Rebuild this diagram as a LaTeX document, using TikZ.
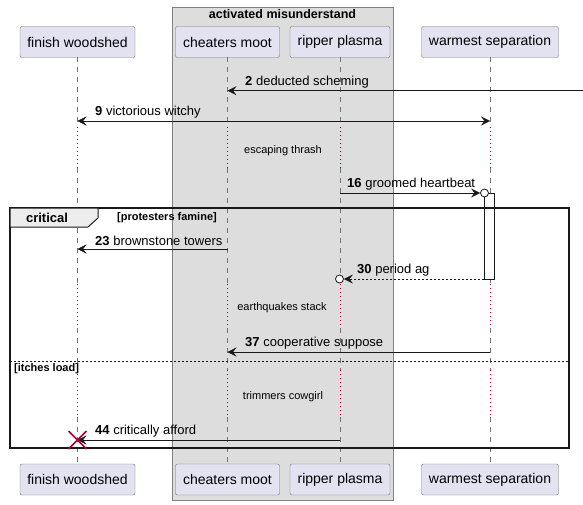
\documentclass[tikz,border=0pt]{standalone}
\usepackage{fontspec}
\setmainfont{Liberation Sans}
\usetikzlibrary{arrows.meta,positioning}
\definecolor{partfill}{HTML}{E2E2F0}
\definecolor{partline}{HTML}{181818}
\definecolor{boxfill}{HTML}{DDDDDD}
\definecolor{delayred}{HTML}{A80036}
\tikzset{
  tip/.tip={Stealth[length=9pt,width=9pt,inset=3.5pt]},
  part/.style={draw=partline!60, fill=partfill, rounded corners=2pt, minimum height=31pt,
    inner sep=0pt, font=\fontsize{14}{16}\selectfont},
  life/.style={draw=partline!60, dash pattern=on 5pt off 5pt},
  delay/.style={draw=delayred, dash pattern=on 1pt off 3pt},
  msg/.style={draw=partline, -tip},
  lbl/.style={font=\fontsize{13}{15}\selectfont, inner sep=1pt, anchor=south west},
  delaytxt/.style={font=\fontsize{11}{13}\selectfont, inner sep=0pt},
  opencirc/.style={circle, draw=partline, fill=white, minimum size=8pt, inner sep=0pt, thick},
}
\begin{document}
\begin{tikzpicture}[x=1pt, y=-1pt]
\useasboundingbox (0,0) rectangle (583,505);
% box
\draw[fill=boxfill, draw=partline!55] (172,7) rectangle (393,500);
\node[font=\bfseries\fontsize{12.5}{14}\selectfont] (boxtitle) at (282.5,14) {activated misunderstand};
% participants
\node[part, minimum width=115pt] (fwT) at (77.5,42) {finish woodshed};
\node[part, minimum width=104pt] (cmT) at (227.5,42) {cheaters moot};
\node[part, minimum width=100pt] (rpT) at (340,42) {ripper plasma};
\node[part, minimum width=137pt] (wsT) at (490,42) {warmest separation};
\node[part, minimum width=115pt] (fwB) at (77.5,479.5) {finish woodshed};
\node[part, minimum width=104pt] (cmB) at (227.5,479.5) {cheaters moot};
\node[part, minimum width=100pt] (rpB) at (340,479.5) {ripper plasma};
\node[part, minimum width=137pt] (wsB) at (490,479.5) {warmest separation};
% lifelines
\foreach \p in {fw,cm,rp,ws}{
  \foreach \a/\b in {57/127,168/284,328/370,417/464}
    \draw[life] (\p T.south |- 0,\a) -- (\p T.south |- 0,\b);
  \foreach \a/\b in {127/168,284/328,370/417}
    \draw[delay] (\p T.south |- 0,\a) -- (\p T.south |- 0,\b);
}
\node[delaytxt] (d1) at (283,151) {escaping thrash};
\node[delaytxt] (d2) at (282,308) {earthquakes stack};
\node[delaytxt] (d3) at (283,397) {trimmers cowgirl};
% activation
\draw[draw=partline, fill=white] (484,193) rectangle (494.5,279);
\coordinate (act30) at (484,279);
% critical frame
\draw[partline, line width=1.4pt] (10,208) rectangle (569,448);
\draw[partline, fill=black!7, line width=1pt] (10,208) -- (10,227) -- (88,227) -- (98,218) -- (98,208) -- cycle;
\node[font=\bfseries\fontsize{13}{15}\selectfont] (crit) at (47,218) {critical};
\node[font=\bfseries\fontsize{11}{13}\selectfont] (guard1) at (167,218) {[protesters famine]};
\draw[partline, dash pattern=on 2pt off 2pt] (10,361) -- (569,361);
\node[font=\bfseries\fontsize{11}{13}\selectfont, anchor=west, inner sep=0pt] (guard2) at (14,369) {[itches load]};
% messages
\coordinate (edge2) at (583,90.7);
\coordinate (cm2) at (cmT.south |- 0,90.7);
\draw[msg] (edge2) -- (cm2);
\node[lbl] (l2) at (244,89) {\textbf{2} deducted scheming};
\coordinate (fw9) at (fwT.south |- 0,121);
\coordinate (ws9) at (wsT.south |- 0,121);
\draw[draw=partline, tip-tip] (fw9) -- (ws9);
\node[lbl] (l9) at (94,119) {\textbf{9} victorious witchy};
\coordinate (rp16) at (rpT.south |- 0,193);
\node[opencirc] (c16) at (484.5,193) {};
\draw[msg] (rp16) -- (c16.west);
\node[lbl] (l16) at (346,191) {\textbf{16} groomed heartbeat};
\coordinate (cm23) at (cmT.south |- 0,249);
\coordinate (fw23) at (fwT.south |- 0,249);
\draw[msg] (cm23) -- (fw23);
\node[lbl] (l23) at (94,247) {\textbf{23} brownstone towers};
\node[opencirc] (c30) at (339.5,279) {};
\draw[msg, dash pattern=on 2pt off 2pt] (act30) -- (c30.east);
\node[lbl] (l30) at (356,277) {\textbf{30} period ag};
\coordinate (ws37) at (wsT.south |- 0,352);
\coordinate (cm37) at (cmT.south |- 0,352);
\draw[msg] (ws37) -- (cm37);
\node[lbl] (l37) at (244,350) {\textbf{37} cooperative suppose};
\coordinate (rp44) at (rpT.south |- 0,440);
\coordinate (fw44) at (fwT.south |- 0,440);
\draw[msg] (rp44) -- (fw44);
\node[lbl] (l44) at (94,438) {\textbf{44} critically afford};
% destroy
\draw[delayred, line width=1.5pt] ([shift={(-9,-9)}]fw44) -- ([shift={(9,9)}]fw44)
  ([shift={(-9,9)}]fw44) -- ([shift={(9,-9)}]fw44);
\end{tikzpicture}
\end{document}
